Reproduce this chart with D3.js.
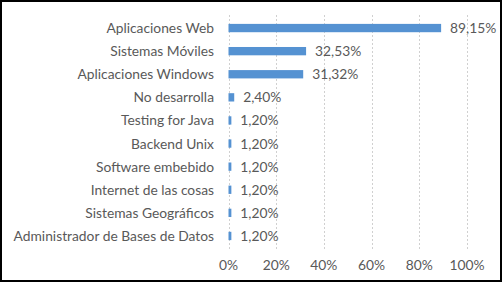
<html><head><meta charset="utf-8"><style>
  body { margin: 0; background: #fff; }
  svg { display: block; }
  text { font-family: Lato, "Open Sans", sans-serif; }
</style></head><body>
<div id="chart"></div>
<script src="https://cdnjs.cloudflare.com/ajax/libs/d3/7.8.5/d3.min.js"></script>
<script>
const categories = [
  "Aplicaciones Web", "Sistemas Móviles", "Aplicaciones Windows", "No desarrolla",
  "Testing for Java", "Backend Unix", "Software embebido", "Internet de las cosas",
  "Sistemas Geográficos", "Administrador de Bases de Datos"
];
const values = [89.15, 32.53, 31.32, 2.40, 1.20, 1.20, 1.20, 1.20, 1.20, 1.20];
const valueLabels = ["89,15%", "32,53%", "31,32%", "2,40%", "1,20%", "1,20%", "1,20%", "1,20%", "1,20%", "1,20%"];
const xTicks = [0, 20, 40, 60, 80, 100];

const width = 503, height = 284;
const fs = 13.8;
const svg = d3.select("#chart").append("svg")
  .attr("width", width).attr("height", height);

// outer frame
svg.append("rect")
  .attr("x", 1).attr("y", 1).attr("width", width - 3).attr("height", height - 4)
  .attr("fill", "#fff").attr("stroke", "#000").attr("stroke-width", 2);

const x = d3.scaleLinear().domain([0, 100]).range([228.5, 467]);
const y = d3.scaleBand().domain(categories).range([16.5, 247.5]).paddingInner(0.64).paddingOuter(0.32);

// gridlines
svg.append("g").selectAll("line").data(xTicks).enter().append("line")
  .attr("x1", d => Math.round(x(d)) + 0.5).attr("x2", d => Math.round(x(d)) + 0.5)
  .attr("y1", 15).attr("y2", 249)
  .attr("stroke", "#d0d0d0").attr("stroke-dasharray", "2,2");

// tick labels
svg.append("g").selectAll("text").data(xTicks).enter().append("text")
  .attr("x", d => x(d)).attr("y", 270)
  .attr("text-anchor", "middle").attr("font-size", fs).attr("fill", "#595959")
  .text(d => d + "%");

// category labels
svg.append("g").selectAll("text").data(categories).enter().append("text")
  .attr("x", 214).attr("y", d => y(d) + y.bandwidth() / 2 + 5)
  .attr("text-anchor", "end").attr("font-size", fs).attr("fill", "#595959")
  .text(d => d);

// bars
svg.append("g").selectAll("rect").data(values).enter().append("rect")
  .attr("x", x(0)).attr("y", (d, i) => y(categories[i]))
  .attr("width", d => x(d) - x(0)).attr("height", y.bandwidth())
  .attr("fill", "#5592d2");

// value labels
svg.append("g").selectAll("text").data(values).enter().append("text")
  .attr("x", d => x(d) + 9).attr("y", (d, i) => y(categories[i]) + y.bandwidth() / 2 + 5)
  .attr("font-size", fs).attr("fill", "#595959")
  .text((d, i) => valueLabels[i]);
</script>
</body></html>
